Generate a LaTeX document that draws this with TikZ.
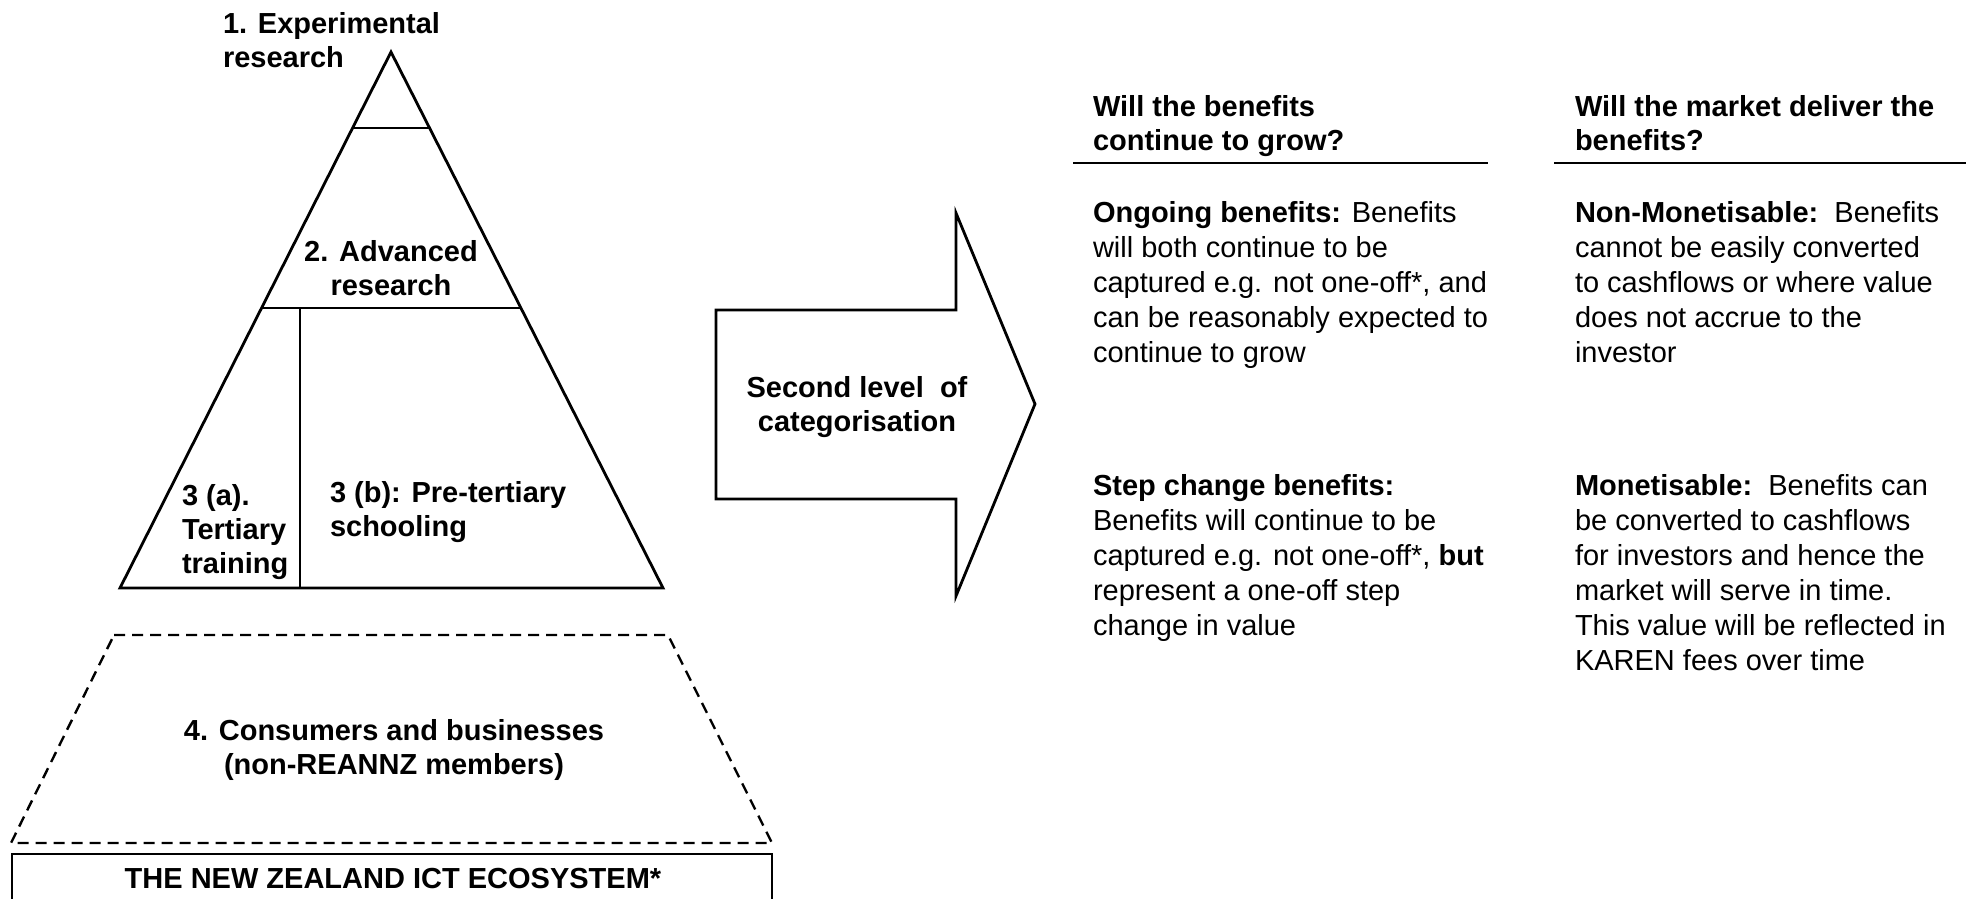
\documentclass[tikz,border=0pt]{standalone}
\usepackage{fontspec}
\setmainfont{Liberation Sans}
\usetikzlibrary{calc}
\begin{document}
% multi-line nodes sit on the baseline of their last line
\begin{tikzpicture}[x=1pt,y=-1pt,
  every node/.style={inner sep=0pt, outer sep=0pt},
  txt/.style={font=\fontsize{29}{35}\selectfont, align=left, anchor=base west},
  head/.style={txt, font=\fontsize{29}{34}\selectfont\bfseries},
  headc/.style={head, align=center, anchor=base},
  outline/.style={line width=2.8pt, line join=miter},
  cut/.style={line width=2.2pt},
  rule/.style={line width=2.8pt},
  dashline/.style={line width=2.4pt, dash pattern=on 11pt off 7pt}]

\useasboundingbox (0,0) rectangle (1972,898);
\clip (0,0) rectangle (1972,898);

% pyramid of REANNZ member groups
\coordinate (apex) at (391,52);
\coordinate (bl) at (120,588);
\coordinate (br) at (663,588);
\coordinate (c1l) at ($(apex)!0.1418!(bl)$);
\coordinate (c1r) at ($(apex)!0.1418!(br)$);
\coordinate (c2l) at ($(apex)!0.4776!(bl)$);
\coordinate (c2r) at ($(apex)!0.4776!(br)$);
\coordinate (vt) at (300,308);
\coordinate (vb) at (300,588);
\draw[outline] (apex) -- (br) -- (bl) -- cycle;
\draw[cut] (c1l) -- (c1r);
\draw[cut] (c2l) -- (c2r);
\draw[cut] (vt) -- (vb);

\node[head] (exp) at (223,67) {1. Experimental\\research};
\node[headc] (adv) at (391,295) {2. Advanced\\research};
\node[head] (tert) at (182,573) {3 (a).\\Tertiary\\training};
\node[head] (pre) at (330,536) {3 (b): Pre-tertiary\\schooling};

% wider community below the pyramid
\draw[dashline] (114,635) -- (668,635) -- (772,843) -- (11,843) -- cycle;
\node[headc] (cons) at (394,774) {4. Consumers and businesses\\(non-REANNZ members)};

\draw[line width=2.4pt] (12,854) rectangle (772,920);
\node[headc] (eco) at (393,888) {THE NEW ZEALAND ICT ECOSYSTEM*};

% block arrow
\draw[outline] (716,310) -- (956,310) -- (956,213) -- (1035,404) -- (956,596)
  -- (956,499) -- (716,499) -- cycle;
\node[headc] (second) at (857,431) {Second level~~of\\categorisation};

% two questions and their categories
\node[head] (q1) at (1093,150) {Will the benefits\\continue to grow?};
\draw[rule] (1073,163) -- (1488,163);
\node[head] (q2) at (1575,150) {Will the market deliver the\\benefits?};
\draw[rule] (1554,163) -- (1966,163);

\node[txt] (ongo) at (1093,362) {\textbf{Ongoing benefits:} Benefits\\will both continue to be\\captured e.g. not one-off*, and\\can be reasonably expected to\\continue to grow};
\node[txt] (step) at (1093,635) {\textbf{Step change benefits:}\\Benefits will continue to be\\captured e.g. not one-off*, \textbf{but}\\represent a one-off step\\change in value};
\node[txt] (nonmon) at (1575,362) {\textbf{Non-Monetisable:}~~Benefits\\cannot be easily converted\\to cashflows or where value\\does not accrue to the\\investor};
\node[txt] (mon) at (1575,670) {\textbf{Monetisable:}~~Benefits can\\be converted to cashflows\\for investors and hence the\\market will serve in time.\\This value will be reflected in\\KAREN fees over time};
\end{tikzpicture}
\end{document}
